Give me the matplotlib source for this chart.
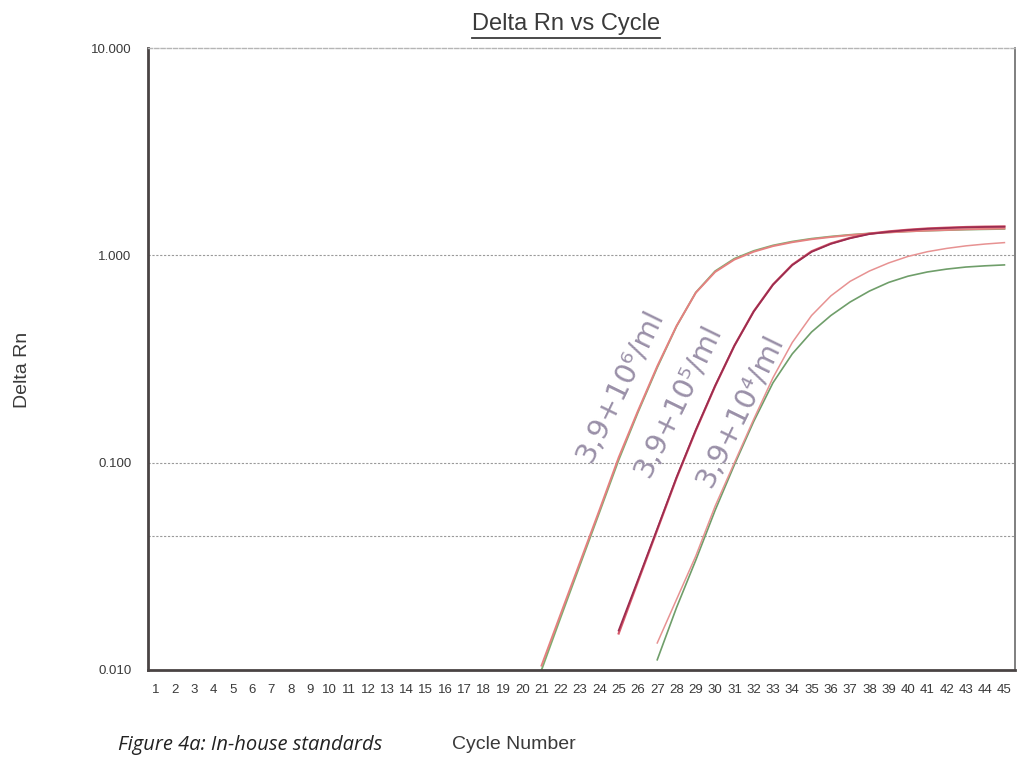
import numpy as np
import matplotlib
matplotlib.use('Agg')
from matplotlib import pyplot as plt
from matplotlib.lines import Line2D

# данные (Delta Rn по циклам)
cycles_a = list(range(21, 46))
std6_red = [0.0105, 0.0187, 0.0332, 0.059, 0.106, 0.178, 0.292, 0.457, 0.661, 0.832, 0.955, 1.042, 1.109,
            1.158, 1.197, 1.227, 1.253, 1.274, 1.291, 1.306, 1.318, 1.327, 1.337, 1.343, 1.349]
std6_green = [0.0100, 0.0180, 0.0322, 0.0575, 0.103, 0.175, 0.288, 0.455, 0.663, 0.84, 0.965, 1.052, 1.118,
              1.167, 1.205, 1.234, 1.258, 1.277, 1.293, 1.306, 1.316, 1.324, 1.332, 1.337, 1.342]

cycles_b = list(range(25, 46))
std5_red = [0.015, 0.0267, 0.0474, 0.0843, 0.143, 0.234, 0.367, 0.537, 0.724, 0.902, 1.047, 1.143,
            1.216, 1.274, 1.306, 1.33, 1.349, 1.361, 1.371, 1.377, 1.38]
std5_dark = [0.0155, 0.0272, 0.048, 0.085, 0.144, 0.235, 0.367, 0.536, 0.722, 0.898, 1.04, 1.137,
             1.21, 1.268, 1.30, 1.325, 1.344, 1.356, 1.366, 1.372, 1.375]

cycles_c = list(range(27, 46))
std4_red = [0.0135, 0.0219, 0.0355, 0.0617, 0.100, 0.162, 0.257, 0.380, 0.513, 0.638, 0.750, 0.841,
            0.920, 0.989, 1.042, 1.081, 1.112, 1.135, 1.153]
std4_green = [0.0112, 0.020, 0.0339, 0.0589, 0.0977, 0.158, 0.243, 0.335, 0.427, 0.513, 0.596, 0.673,
              0.741, 0.794, 0.832, 0.859, 0.879, 0.891, 0.90]

threshold = 0.0444
y_ticks = [0.01, 0.1, 1.0, 10.0]
x_ticks = list(range(1, 46))

# подписи от руки: текст, цикл, Delta Rn
notes = [('3,9+10⁶/ml', 25.1, 0.235),
         ('3,9+10⁵/ml', 28.1, 0.20),
         ('3,9+10⁴/ml', 31.3, 0.178)]

plt.rcParams['font.family'] = ['Liberation Sans', 'DejaVu Sans']

fig = plt.figure(figsize=(10.18, 7.63), dpi=100)
ax = fig.add_axes([0.1454, 0.1219, 0.8517, 0.815])

ax.plot(cycles_a, std6_green, color='#7cae6e', lw=1.3)
ax.plot(cycles_a, std6_red, color='#e58080', lw=1.4)
ax.plot(cycles_b, std5_red, color='#d85a6a', lw=1.6)
ax.plot(cycles_b, std5_dark, color='#9c2c50', lw=1.3)
ax.plot(cycles_c, std4_green, color='#6f9e6a', lw=1.2)
ax.plot(cycles_c, std4_red, color='#e79292', lw=1.1)

ax.set_yscale('log')
ax.set_ylim(0.01, 10)
ax.set_xlim(0.6, 45.55)
ax.set_yticks(y_ticks)
ax.set_yticklabels(['%.3f' % v for v in y_ticks])
ax.yaxis.set_minor_locator(matplotlib.ticker.NullLocator())
ax.set_xticks(x_ticks)
ax.set_xticklabels([str(c) for c in x_ticks])
ax.tick_params(axis='both', length=0, labelsize=9.5, labelcolor='#3a3a3a')
ax.tick_params(axis='x', pad=10)
ax.tick_params(axis='y', pad=12)

# горизонтальные линии сетки и порог
for v in [1.0, 0.1, threshold]:
    ax.axhline(v, color='#9a9a9a', lw=0.8, ls=(0, (2, 1.5)), zorder=0)

for s in ['left', 'bottom']:
    ax.spines[s].set_color('#4a4444')
    ax.spines[s].set_linewidth(2)
ax.spines['right'].set_color('#6a6a6a')
ax.spines['right'].set_linewidth(1.2)
ax.spines['top'].set_color('#b5b5b5')
ax.spines['top'].set_linewidth(1)
ax.spines['top'].set_linestyle((0, (3, 1.5)))

for txt, cx, cy in notes:
    ax.text(cx, cy, txt, rotation=64, ha='center', va='center', fontsize=21,
            color='#9a90a8', family=['DejaVu Sans'], zorder=5)

title = fig.text(0.556, 0.968, 'Delta Rn vs Cycle', ha='center', va='center',
                 fontsize=17, color='#3a3a3a')
fig.text(0.022, 0.515, 'Delta Rn', rotation=90, ha='center', va='center',
         fontsize=14, color='#3a3a3a')
fig.text(0.505, 0.024, 'Cycle Number', ha='center', va='center',
         fontsize=14, color='#3a3a3a')
fig.text(0.116, 0.024, 'Figure 4a: In-house standards', ha='left', va='center',
         fontsize=14.5, style='italic', color='#222222', family=['Open Sans', 'DejaVu Sans'])

# подчеркивание заголовка
fig.canvas.draw()
bb = title.get_window_extent().transformed(fig.transFigure.inverted())
fig.add_artist(Line2D([bb.x0, bb.x1], [bb.y0 - 0.003, bb.y0 - 0.003],
                      transform=fig.transFigure, color='#3a3a3a', lw=1.3))

fig.savefig('out.png', dpi=100)
